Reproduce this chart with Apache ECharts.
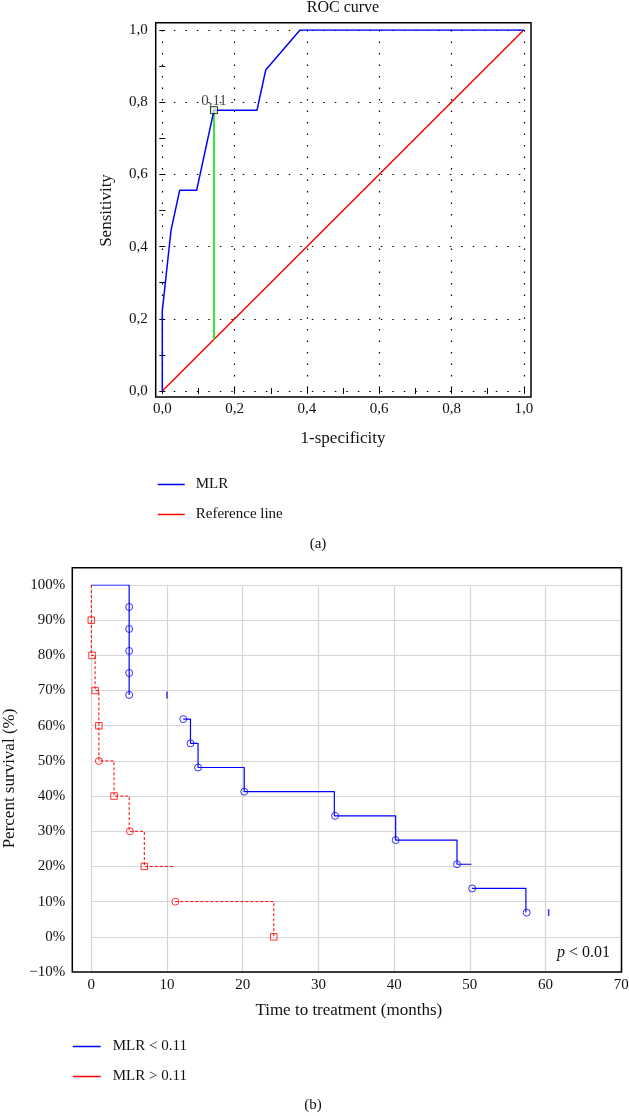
<!DOCTYPE html>
<html>
<head>
<meta charset="utf-8">
<script src="https://cdn.jsdelivr.net/npm/echarts@6/dist/echarts.min.js"></script>
<style>
  html, body { margin: 0; padding: 0; background: #fff; }
  #chart { width: 629px; height: 1116px; }
</style>
</head>
<body>
<div id="chart"></div>
<script>
// (a) ROC curve
const rocFpr = [0, 0, 0.024, 0.048, 0.095, 0.143, 0.262, 0.286, 0.381, 1];
const rocTpr = [0, 0.222, 0.444, 0.556, 0.556, 0.778, 0.778, 0.889, 1, 1];
const refLine = [[0, 0], [1, 1]];
const cutoffPoint = [0.143, 0.778];
const cutoffLabel = '0,11';

// (b) Kaplan-Meier, time in months, survival in %
const lowSegments = [
  [[0, 100], [5, 100], [5, 68.75]],
  [[12.15, 61.88], [13.1, 61.88], [13.1, 55], [14.1, 55], [14.1, 48.13], [20.2, 48.13],
   [20.2, 41.25], [32.1, 41.25], [32.1, 34.38], [40.2, 34.38], [40.2, 27.5], [48.3, 27.5],
   [48.3, 20.63], [50.2, 20.63]],
  [[50.3, 13.75], [57.4, 13.75], [57.4, 6.88]]
];
const lowEvents = [[5, 93.75], [5, 87.5], [5, 81.25], [5, 75], [5, 68.75], [12.15, 61.88],
  [13.1, 55], [14.1, 48.13], [20.2, 41.25], [32.2, 34.38], [40.2, 27.5], [48.3, 20.63],
  [50.3, 13.75], [57.5, 6.88]];
const lowTicks = [[10, 68.75], [60.4, 6.88]];

const highSegments = [
  [[0, 100], [0, 80], [0.5, 80], [0.5, 70], [1, 70], [1, 50], [3, 50], [3, 40], [5, 40],
   [5, 30], [7, 30], [7, 20], [11, 20]],
  [[11.1, 10], [24.1, 10], [24.1, 0]]
];
const highSquares = [[0, 90], [0.1, 80], [0.5, 70], [1, 60], [3, 40], [7, 20], [24.1, 0]];
const highCircles = [[1, 50], [5.1, 30], [11.1, 10]];

const FONT = 'Liberation Serif';
const txt = { fontFamily: FONT, fontSize: 15, color: '#111' };
const nameTxt = { fontFamily: FONT, fontSize: 17, color: '#111' };

// plot areas (data extent) and surrounding frames
const gA = { left: 162.3, top: 30, width: 361.5, height: 361, outerBoundsMode: 'none' };
const fA = { x: 155.7, y: 22.7, width: 375.3, height: 374.3 };
const gB = { left: 91.3, top: 585, width: 530, height: 387, outerBoundsMode: 'none' };
const fB = { x: 72.3, y: 567.7, width: 549.2, height: 404.3 };

const chart = echarts.init(document.getElementById('chart'));

const dotted = { show: true, lineStyle: { color: '#000', width: 1.2, type: [1.5, 10] } };
const rocFmt = (v) => v.toFixed(1).replace('.', ',');

const series = [
  {
    name: 'Reference line', type: 'line', xAxisIndex: 0, yAxisIndex: 0,
    data: refLine, symbol: 'none', lineStyle: { color: '#ff0000', width: 1.5 },
    itemStyle: { color: '#ff0000' }, z: 3
  },
  {
    name: 'cutoff', type: 'line', xAxisIndex: 0, yAxisIndex: 0,
    data: [[cutoffPoint[0], cutoffPoint[0]], cutoffPoint], symbol: 'none',
    lineStyle: { color: '#1ee81e', width: 1.8 }, z: 3
  },
  {
    name: 'MLR', type: 'line', xAxisIndex: 0, yAxisIndex: 0,
    data: rocFpr.map((x, i) => [x, rocTpr[i]]), symbol: 'none',
    lineStyle: { color: '#0000ff', width: 1.5 }, itemStyle: { color: '#0000ff' }, z: 4
  },
  {
    name: 'cutoffMark', type: 'scatter', xAxisIndex: 0, yAxisIndex: 0,
    data: [cutoffPoint], symbol: 'rect', symbolSize: 7,
    itemStyle: { color: '#d8ecd8', borderColor: '#000', borderWidth: 1 },
    label: { show: true, position: 'top', distance: 1, offset: [0, 3], formatter: cutoffLabel, ...txt },
    z: 5
  }
];

lowSegments.forEach((seg) => series.push({
  name: 'MLR < 0.11', type: 'line', xAxisIndex: 2, yAxisIndex: 2, data: seg,
  symbol: 'none', lineStyle: { color: '#0000ff', width: 1.2 }, itemStyle: { color: '#0000ff' }
}));
highSegments.forEach((seg) => series.push({
  name: 'MLR > 0.11', type: 'line', xAxisIndex: 2, yAxisIndex: 2, data: seg,
  symbol: 'none', lineStyle: { color: '#ff0000', width: 1, type: [3, 2] },
  itemStyle: { color: '#ff0000' }
}));
series.push(
  {
    name: 'lowEvents', type: 'scatter', xAxisIndex: 2, yAxisIndex: 2, data: lowEvents,
    symbol: 'circle', symbolSize: 7,
    itemStyle: { color: 'rgba(255,255,255,0)', borderColor: '#0000ff', borderWidth: 1 }
  },
  {
    name: 'lowTicks', type: 'scatter', xAxisIndex: 2, yAxisIndex: 2, data: lowTicks,
    symbol: 'rect', symbolSize: [1.5, 7], itemStyle: { color: '#0000ff' }
  },
  {
    name: 'highSquares', type: 'scatter', xAxisIndex: 2, yAxisIndex: 2, data: highSquares,
    symbol: 'rect', symbolSize: 6.5,
    itemStyle: { color: 'rgba(255,255,255,0)', borderColor: '#ff0000', borderWidth: 1 }
  },
  {
    name: 'highCircles', type: 'scatter', xAxisIndex: 2, yAxisIndex: 2, data: highCircles,
    symbol: 'circle', symbolSize: 7,
    itemStyle: { color: 'rgba(255,255,255,0)', borderColor: '#ff0000', borderWidth: 1 }
  }
);

const frameTick = { show: true, inside: true, length: 3, lineStyle: { color: '#000' } };
const frameMinor = { show: true, splitNumber: 2, length: 3, lineStyle: { color: '#000' } };
const legendBase = {
  orient: 'vertical', padding: 0, itemHeight: 14, itemGap: 15, selectedMode: false,
  itemStyle: { opacity: 0, borderWidth: 0 }, lineStyle: { type: 'solid', width: 1.5 }
};

chart.setOption({
  animation: false,
  title: [
    { text: 'ROC curve', left: 343, top: 0, textAlign: 'center', padding: 0,
      textStyle: { ...txt, fontSize: 16, fontWeight: 'normal' } },
    { text: '(a)', left: 318, top: 537, textAlign: 'center', padding: 0,
      textStyle: { ...txt, fontWeight: 'normal' } },
    { text: '(b)', left: 313, top: 1098, textAlign: 'center', padding: 0,
      textStyle: { ...txt, fontWeight: 'normal' } }
  ],
  legend: [
    {
      ...legendBase, data: ['MLR', 'Reference line'], left: 157, top: 477, itemWidth: 27,
      textStyle: { ...txt, padding: [0, 0, 0, 6] }
    },
    {
      ...legendBase, data: ['MLR < 0.11', 'MLR > 0.11'], left: 72, top: 1039, itemWidth: 28,
      textStyle: { ...txt, padding: [0, 0, 0, 7] }
    }
  ],
  grid: [gA, gB],
  xAxis: [
    {
      gridIndex: 0, type: 'value', min: 0, max: 1, interval: 0.2, offset: 6,
      name: '1-specificity', nameLocation: 'middle', nameGap: 33, nameTextStyle: nameTxt,
      axisLine: { show: false }, axisTick: frameTick, minorTick: frameMinor,
      axisLabel: { ...txt, margin: 5, formatter: rocFmt }, splitLine: dotted
    },
    {
      gridIndex: 0, type: 'value', position: 'top', min: 0, max: 1, interval: 0.2, offset: 7.3,
      axisLine: { show: false }, axisTick: frameTick, minorTick: frameMinor,
      axisLabel: { show: false }, splitLine: { show: false }
    },
    {
      gridIndex: 1, type: 'value', min: 0, max: 70, interval: 10,
      name: 'Time to treatment (months)', nameLocation: 'middle', nameGap: 30,
      nameTextStyle: { ...nameTxt, padding: [0, 15, 0, 0] },
      axisLine: { show: false }, axisTick: { show: false },
      axisLabel: { ...txt, margin: 6 },
      splitLine: { show: true, lineStyle: { color: '#d6d6d6', width: 1.2 } }
    }
  ],
  yAxis: [
    {
      gridIndex: 0, type: 'value', min: 0, max: 1, interval: 0.2, offset: 6.6,
      name: 'Sensitivity', nameLocation: 'middle', nameGap: 41, nameTextStyle: nameTxt,
      axisLine: { show: false }, axisTick: frameTick, minorTick: frameMinor,
      axisLabel: { ...txt, margin: 8, formatter: rocFmt }, splitLine: dotted
    },
    {
      gridIndex: 0, type: 'value', position: 'right', min: 0, max: 1, interval: 0.2, offset: 7,
      axisLine: { show: false }, axisTick: frameTick, minorTick: frameMinor,
      axisLabel: { show: false }, splitLine: { show: false }
    },
    {
      gridIndex: 1, type: 'value', min: -10, max: 100, interval: 10,
      name: 'Percent survival (%)', nameLocation: 'middle', nameGap: 72, nameTextStyle: nameTxt,
      axisLine: { show: false }, axisTick: { show: false },
      axisLabel: { ...txt, margin: 26, formatter: (v) => (v < 0 ? '\u2212' + (-v) : v) + '%' },
      splitLine: { show: true, lineStyle: { color: '#d6d6d6', width: 1.2 } }
    }
  ],
  graphic: [
    { type: 'rect', shape: fA, style: { fill: 'none', stroke: '#000', lineWidth: 1.5 }, z: 10 },
    { type: 'rect', shape: fB, style: { fill: 'none', stroke: '#000', lineWidth: 1.5 }, z: 10 },
    {
      type: 'text', x: 557, y: 953, z: 10,
      style: {
        text: '{p|p} < 0.01', font: '16px ' + FONT, fill: '#111', verticalAlign: 'middle',
        rich: { p: { fontStyle: 'italic', fontFamily: FONT, fontSize: 16, fill: '#111' } }
      }
    }
  ],
  series
});
</script>
</body>
</html>
